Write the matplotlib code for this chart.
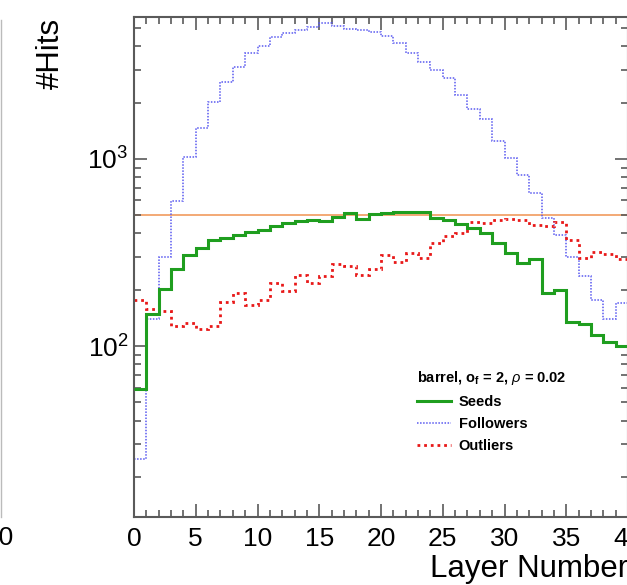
import numpy as np
import matplotlib
matplotlib.use("Agg")
import matplotlib.pyplot as plt
from matplotlib.ticker import MultipleLocator, LogLocator, NullFormatter
from matplotlib.lines import Line2D

plt.rcParams['font.family'] = ['Liberation Sans', 'DejaVu Sans']
plt.rcParams['mathtext.fontset'] = 'custom'
plt.rcParams['mathtext.rm'] = 'Liberation Sans'
plt.rcParams['mathtext.it'] = 'Liberation Sans:italic'
plt.rcParams['mathtext.bf'] = 'Liberation Sans:bold'

# hits per layer, bins 0..39
layers = np.arange(41)
seeds = [59, 148, 201, 258, 307, 336, 369, 377, 392, 408,
         417, 438, 453, 468, 471, 466, 492, 516, 478, 506,
         513, 523, 523, 523, 482, 471, 449, 426, 401, 357,
         313, 277, 291, 191, 200, 135, 132, 115, 105, 100]
followers = [25, 140, 300, 596, 1029, 1470, 2025, 2590, 3120, 3672,
             4035, 4506, 4700, 4895, 5060, 5300, 5160, 4955, 4895, 4760,
             4565, 4155, 3672, 3290, 2993, 2700, 2197, 1849, 1636, 1248,
             1016, 821, 656, 482, 392, 300, 237, 176, 140, 170]
outliers = [176, 158, 154, 128, 133, 123, 128, 171, 191, 166,
            176, 216, 197, 240, 218, 237, 274, 269, 240, 257,
            307, 282, 313, 294, 356, 387, 401, 462, 456, 471,
            478, 471, 446, 437, 462, 370, 295, 317, 310, 293]
ref_level = 500

fig = plt.figure(figsize=(6.27, 5.85), dpi=100)
ax = fig.add_axes([134/627, 1-517/585, 494/627, 500/585])

ax.axhline(ref_level, color='#f2a36a', lw=1.3, zorder=1)
ax.stairs(seeds, layers, color='#1f9e1f', lw=2.2, baseline=None, zorder=3)
ax.stairs(followers, layers, color='#5a5af0', lw=1.1, ls=(0, (1, 1)),
          baseline=None, zorder=2)
ax.stairs(outliers, layers, color='#e81818', lw=2.0, ls=(0, (1, 1.4)),
          baseline=None, zorder=2)

ax.set_yscale('log')
ax.set_xlim(0, 40)
ax.set_ylim(12.2, 5740)

ax.xaxis.set_major_locator(MultipleLocator(5))
ax.xaxis.set_minor_locator(MultipleLocator(1))
ax.yaxis.set_major_locator(LogLocator(base=10))
ax.yaxis.set_minor_locator(LogLocator(base=10, subs=np.arange(2, 10)))
ax.yaxis.set_minor_formatter(NullFormatter())

spine_col = '#5a5a5a'
for s in ax.spines.values():
    s.set_color(spine_col)
    s.set_linewidth(1.5)
ax.tick_params(which='both', direction='in', top=True, right=True,
               color=spine_col, width=1.2)
ax.tick_params(which='major', length=9.5)
ax.tick_params(which='minor', length=5)
ax.tick_params(axis='x', labelsize=19, pad=7)
ax.tick_params(axis='y', labelsize=19, pad=4)

fig.text(628/627, 1-569/585, 'Layer Number', fontsize=22.5,
         ha='right', va='center')
fig.text(51/627, 1-18/585, '#Hits', fontsize=22.5, rotation=90,
         ha='center', va='top')

# pieces of the neighbouring panel
fig.add_artist(Line2D([1/627, 1/627], [1-20/585, 1-517/585],
                      color='#bbbbbb', lw=1))
fig.text(14/627, 1-538/585, '40', fontsize=19, ha='right', va='center')

handles = [Line2D([], [], color='#1f9e1f', lw=2.2),
           Line2D([], [], color='#5a5af0', lw=1.1, ls=(0, (1, 1))),
           Line2D([], [], color='#e81818', lw=2.0, ls=(0, (1, 1.4)))]
leg = ax.legend(handles, ['Seeds', 'Followers', 'Outliers'],
                title='barrel, o$_\\mathregular{f}$ = 2, $\\rho$ = 0.02',
                loc='upper left', bbox_to_anchor=(417/627, 1-369/585),
                bbox_transform=fig.transFigure, frameon=False,
                prop={'weight': 'bold', 'size': 10.5},
                title_fontproperties={'weight': 'bold', 'size': 10.5},
                alignment='left', borderpad=0, borderaxespad=0,
                handlelength=2.3, handletextpad=0.55, labelspacing=0.55)

fig.savefig('out.png', dpi=100)
